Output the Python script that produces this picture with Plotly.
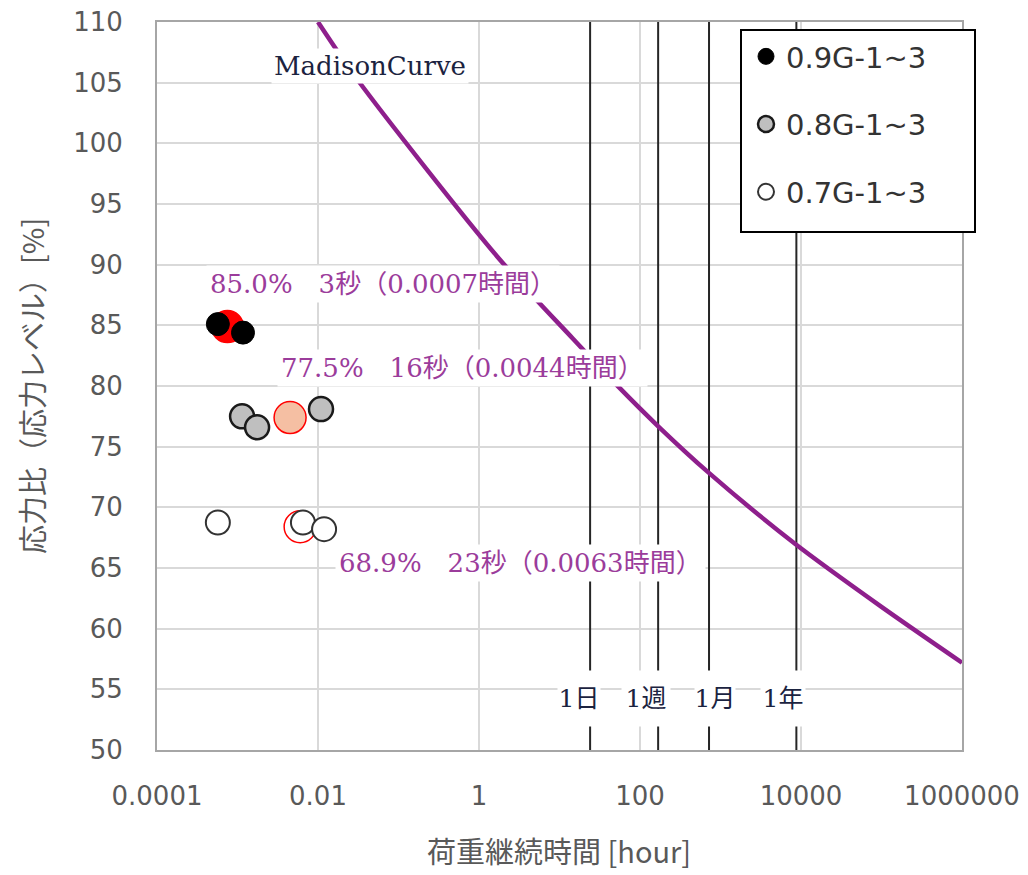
import numpy as np
import plotly.graph_objects as go

# ---------------- data ----------------
x_tickvals = [1e-4, 1e-2, 1, 1e2, 1e4, 1e6]
x_ticktext = ["0.0001", "0.01", "1", "100", "10000", "1000000"]
y_ticks = list(range(50, 111, 5))
y_range = [50, 110]

# Madison curve
madison_t = [0.01, 0.0305, 1.67, 14.7, 56.5, 167, 700, 8420, 1e5, 1e6]
madison_sl = [110.0, 105.3, 90.7, 83.9, 79.8, 76.7, 72.9, 67.0, 61.8, 57.2]

# test series
series_names = ["0.9G-1~3", "0.8G-1~3", "0.7G-1~3"]
g09_x = [0.00057, 0.00117]
g09_y = [85.1, 84.4]
g08_x = [0.00114, 0.00175, 0.0109]
g08_y = [77.5, 76.6, 78.1]
g07_x = [0.00057, 0.0065, 0.0119]
g07_y = [68.75, 68.75, 68.2]

# highlighted (average) points
hl_x = [0.00075, 0.0045, 0.006]
hl_y = [84.9, 77.4, 68.4]
hl_pct = ["85.0%", "77.5%", "68.9%"]
hl_sec = ["3", "16", "23"]
hl_hour = ["0.0007", "0.0044", "0.0063"]

# reference durations [hour]
duration_hours = [24, 168, 720, 8760]
duration_labels = ["1日", "1週", "1月", "1年"]

# ---------------- layout helpers (page pixels of plot area) ----------------
PL, PR, PT, PB = 157, 962, 22, 750
PW, PH = PR - PL, PB - PT


def px2x(px):
    return (px - PL) / PW * 10 - 4


def px2y(py):
    return 110 - (py - PT) / PH * 60


def ppx(px):
    return (px - PL) / PW


def ppy(py):
    return (PB - py) / PH


fig = go.Figure()

vx, vy = [], []
for d in duration_hours:
    vx += [d, d, None]
    vy += [y_range[0], y_range[1], None]
fig.add_trace(go.Scatter(x=vx, y=vy, mode="lines",
                         line=dict(color="#262626", width=2),
                         showlegend=False, hoverinfo="skip"))

fig.add_trace(go.Scatter(x=madison_t, y=madison_sl, mode="lines",
                         line=dict(color="#8E1F8C", width=4.5, shape="spline", smoothing=0.8),
                         showlegend=False, hoverinfo="skip"))

hl_fill = ["#FF0000", "#F5BFA3", "rgba(0,0,0,0)"]
for i in range(3):
    fig.add_trace(go.Scatter(x=[hl_x[i]], y=[hl_y[i]], mode="markers",
                             marker=dict(size=32, color=hl_fill[i],
                                         line=dict(color="#FF0000", width=1.5)),
                             showlegend=False, hoverinfo="skip"))

styles = [
    dict(size=23, color="#000000", line=dict(color="#000000", width=1)),
    dict(size=24, color="#BFBFBF", line=dict(color="#1a1a1a", width=2.5)),
    dict(size=24, color="#FFFFFF", line=dict(color="#333333", width=2)),
]
for name, xs, ys, st, grp in zip(series_names, [g09_x, g08_x, g07_x],
                                 [g09_y, g08_y, g07_y], styles, ["a", "b", "c"]):
    fig.add_trace(go.Scatter(x=xs, y=ys, mode="markers", name=name,
                             marker=st, legendgroup=grp))

ann = []
serif = "DejaVu Serif, Noto Sans CJK JP"
purple = "#9B3C9B"
label_left_px = [206, 277, 335]
label_y_px = [284, 368, 563]

for i in range(3):
    ann.append(dict(x=px2x(label_left_px[i]), y=px2y(label_y_px[i]), xref="x", yref="y",
                    xanchor="left", yanchor="middle", showarrow=False,
                    text=f"{hl_pct[i]}　{hl_sec[i]}秒（{hl_hour[i]}時間）",
                    font=dict(family=serif, size=26, color=purple),
                    bgcolor="white", borderpad=3))

ann.append(dict(x=px2x(370), y=px2y(66), xref="x", yref="y", showarrow=False,
                text="MadisonCurve", font=dict(family=serif, size=26, color="#1b2340"),
                bgcolor="white", borderpad=2))

dur_center_px = [579, 646, 715, 783]
dur_w = [42, 48, 40, 44]
for lab, cx, w in zip(duration_labels, dur_center_px, dur_w):
    ann.append(dict(x=px2x(cx), y=px2y(698), xref="x", yref="y", showarrow=False,
                    text=lab, font=dict(family=serif, size=25, color="#1b2340"),
                    bgcolor="white", width=w, height=55, borderpad=0))

ann.append(dict(x=ppx(559), y=ppy(850), xref="paper", yref="paper", showarrow=False,
                text="荷重継続時間 [hour]", xanchor="center", yanchor="middle",
                font=dict(family="Noto Sans CJK JP", size=29, color="#595959")))
ann.append(dict(x=ppx(31), y=ppy(386), xref="paper", yref="paper",
                showarrow=False, text="応力比（応力レベル）[%]", textangle=-90,
                xanchor="center", yanchor="middle",
                font=dict(family="Noto Sans CJK JP", size=29, color="#595959")))

shapes = []
# legend frame (white box with black border)
shapes.append(dict(type="rect", xref="paper", yref="paper", layer="above",
                   x0=ppx(741), x1=ppx(975), y0=ppy(232), y1=ppy(30),
                   fillcolor="white", line=dict(color="#000000", width=2)))

# page has an 8px body margin: compensate so the plot area lands at PL..PR, PT..PB
OFF = 8
fig.update_layout(
    width=1028, height=875,
    margin=dict(l=PL - OFF, r=1028 - (PR - OFF), t=PT - OFF, b=875 - (PB - OFF)),
    plot_bgcolor="white", paper_bgcolor="white",
    annotations=ann, shapes=shapes,
    legend=dict(x=ppx(746), y=ppy(31), xanchor="left", yanchor="top",
                bgcolor="rgba(0,0,0,0)", borderwidth=0,
                font=dict(family="DejaVu Sans", size=29, color="#333333"),
                traceorder="grouped", tracegroupgap=27, itemsizing="trace"),
    xaxis=dict(type="log", range=[-4, 6], tickvals=x_tickvals, ticktext=x_ticktext,
               showgrid=True, gridcolor="#D9D9D9", gridwidth=1.5, automargin=False,
               showline=True, linecolor="#A6A6A6", linewidth=2, mirror=True,
               ticks="", zeroline=False, ticklabelstandoff=22, ticklabeloverflow="allow",
               tickfont=dict(family="DejaVu Sans", size=26, color="#595959")),
    yaxis=dict(range=y_range, tickvals=y_ticks, automargin=False,
               showgrid=True, gridcolor="#D9D9D9", gridwidth=1.5,
               showline=True, linecolor="#A6A6A6", linewidth=2, mirror=True,
               ticks="", zeroline=False, ticklabelstandoff=27, ticklabeloverflow="allow",
               tickfont=dict(family="DejaVu Sans", size=26, color="#595959")),
)

fig.write_html("out.html")
